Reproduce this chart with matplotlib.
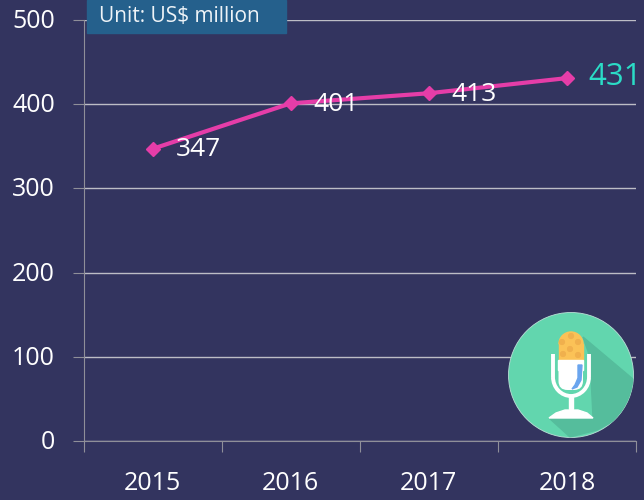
import matplotlib
matplotlib.use("Agg")
import matplotlib.pyplot as plt
from matplotlib.patches import Circle, Rectangle, Polygon, Arc, Wedge, FancyBboxPatch
from matplotlib.transforms import ScaledTranslation

years = ["2015", "2016", "2017", "2018"]
values = [347, 401, 413, 431]
yticks = [0, 100, 200, 300, 400, 500]

bg = "#33345f"
plt.rcParams["font.family"] = ["Open Sans", "DejaVu Sans"]

fig = plt.figure(figsize=(6.44, 5.0), dpi=100, facecolor=bg)
# axes spans x 83-636, y 20-441 in pixels
ax = fig.add_axes([83.5 / 644, 1 - 441 / 500, 552.5 / 644, 421 / 500], facecolor=bg)

x = list(range(len(years)))
ax.plot(x, values, color="#e53da8", lw=3, marker="D", ms=7, zorder=3, clip_on=False)

ax.set_xlim(-0.5, 3.5)
ax.set_ylim(0, 500)
ax.set_yticks(yticks)
ax.set_xticks([-0.5, 0.5, 1.5, 2.5, 3.5])
ax.set_xticklabels([])
ax.grid(axis="y", color="#bdbdc6", lw=1)
ax.set_axisbelow(True)
for s in ["top", "right"]:
    ax.spines[s].set_visible(False)
for s in ["left", "bottom"]:
    ax.spines[s].set_color("#8f8f99")
ax.tick_params(axis="y", colors="white", labelsize=18, length=8, color="#8f8f99", pad=12.5)
ax.tick_params(axis="x", length=8, color="#8f8f99", direction="out")

# nudge y labels up a little
for lab in ax.get_yticklabels():
    lab.set_transform(lab.get_transform() + ScaledTranslation(0, 1.5 / 100, fig.dpi_scale_trans))

for xi, yr in zip(x, years):
    ax.text(xi, -51, yr, color="white", fontsize=18, ha="center", va="center", clip_on=False)

for xi, v in zip(x[:3], values[:3]):
    ax.text(xi + 0.165, v - 1, str(v), color="white", fontsize=19, va="center")
ax.text(x[3] + 0.155, values[3] + 1, str(values[3]), color="#2bdcc6", fontsize=22.5, va="center", clip_on=False)

# unit box, pixel coordinates from here on
ov = fig.add_axes([0, 0, 1, 1], facecolor="none")
ov.set_xlim(0, 644)
ov.set_ylim(500, 0)
ov.axis("off")
ov.set_zorder(5)
ov.add_patch(Rectangle((87, 0), 199, 33, color="#25608c"))
ov.text(99, 17, "Unit: US$ million", color="#eef3f7", fontsize=15, va="center")

# microphone badge
badge = Circle((571, 375), 62.5, fc="#62d6ae", ec="#b9e0d6", lw=0.6, zorder=2)
ov.add_patch(badge)
shadow = Polygon([(583, 337), (640, 385), (625, 415), (597, 430), (570, 437),
                  (549, 418), (593, 417), (590, 357)], color="#55bd9c", zorder=3)
ov.add_patch(shadow)
shadow.set_clip_path(badge)

# capsule
ov.add_patch(Wedge((571, 344), 12, 180, 360, color="#fbc257", zorder=5))
ov.add_patch(Rectangle((559, 344), 24, 16, color="#fbc257", zorder=5))
dots = [(571, 336), (562, 342), (578, 342), (570, 349), (563, 354), (578, 355)]
for dx, dy in dots:
    ov.add_patch(Circle((dx, dy), 2.4, color="#f0b04d", zorder=6))

# body and bracket
ov.add_patch(FancyBboxPatch((558.5, 360), 24.5, 30, boxstyle="round,pad=0,rounding_size=9",
                            fc="white", ec="none", zorder=5))
ov.add_patch(Rectangle((558.5, 360), 24.5, 10, color="white", zorder=5))
ov.plot([553, 553], [354, 377], color="white", lw=2.8, zorder=5, solid_capstyle="butt")
ov.plot([589, 589], [354, 377], color="white", lw=2.8, zorder=5, solid_capstyle="butt")
ov.add_patch(Arc((571, 377), 36, 38, theta1=0, theta2=180, color="white", lw=2.8, zorder=5))
ov.add_patch(Rectangle((569, 396), 4, 13, color="white", zorder=5))
ov.add_patch(Polygon([(549, 418), (556, 413), (565, 410), (578, 410), (587, 413), (593, 418)],
                     color="white", zorder=5))
ov.add_patch(Polygon([(578, 365), (582, 365), (581, 380), (577, 387), (572, 389), (575, 385), (578, 378)],
                     color="#6aa5ee", zorder=6))

fig.savefig("out.png", dpi=100, facecolor=bg)
